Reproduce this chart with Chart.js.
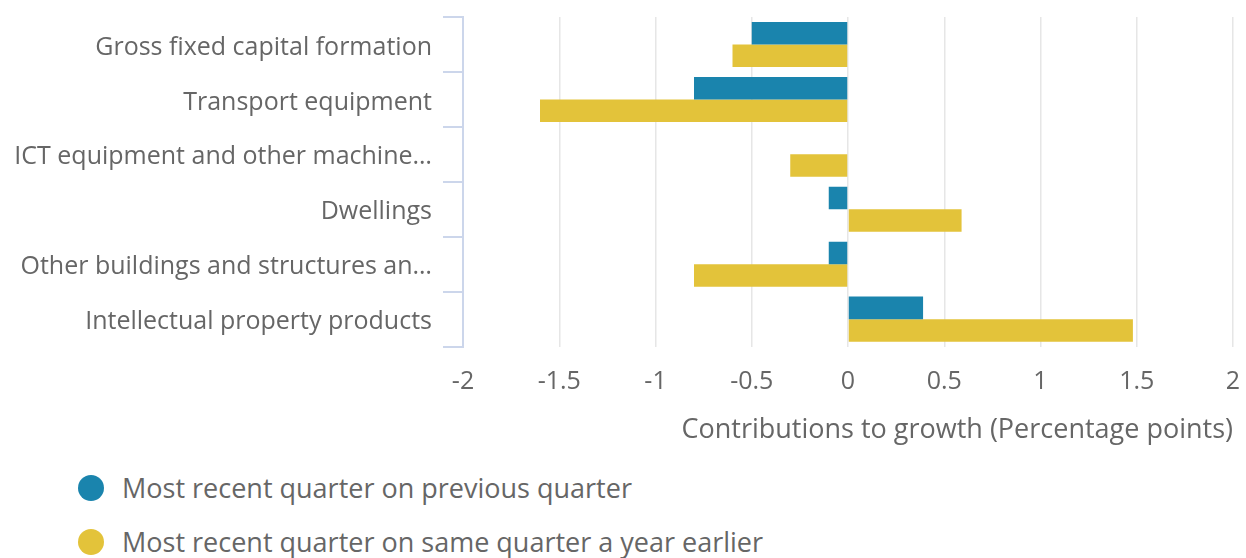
<!DOCTYPE html>
<html>
<head>
<meta charset="utf-8">
<script src="https://cdn.jsdelivr.net/npm/chart.js@4"></script>
<style>
  html, body { margin: 0; background: #fff; font-family: "Open Sans", sans-serif; overflow: hidden; }
  #wrap { position: relative; width: 1246px; height: 450px; }
  .legend { position: absolute; left: 78px; top: 0; color: #666; font-size: 27px; }
  .legend .item { position: absolute; left: 0; white-space: nowrap; height: 30px; line-height: 30px; }
  .legend .dot { display: inline-block; width: 26px; height: 26px; border-radius: 50%; vertical-align: middle; margin-right: 18px; }
  .legend span.txt { vertical-align: middle; }
</style>
</head>
<body>
<div id="wrap"><canvas id="mycanvas"></canvas></div>
<div class="legend" id="legend"></div>
<script>
var categories = [
  'Gross fixed capital formation',
  'Transport equipment',
  'ICT equipment and other machine\u2026',
  'Dwellings',
  'Other buildings and structures an\u2026',
  'Intellectual property products'
];
var quarterOnQuarter = [-0.5, -0.8, 0, -0.1, -0.1, 0.39];
var quarterOnYear = [-0.6, -1.6, -0.3, 0.59, -0.8, 1.48];
var seriesNames = ['Most recent quarter on previous quarter', 'Most recent quarter on same quarter a year earlier'];
var seriesColors = ['#1a84ad', '#e3c33a'];

Chart.defaults.font.family = '"Open Sans", sans-serif';
Chart.defaults.color = '#666666';

var chartdata = {
  labels: categories,
  datasets: [
    {
      label: seriesNames[0],
      backgroundColor: seriesColors[0],
      data: quarterOnQuarter,
      categoryPercentage: 0.82,
      barPercentage: 1
    },
    {
      label: seriesNames[1],
      backgroundColor: seriesColors[1],
      data: quarterOnYear,
      categoryPercentage: 0.82,
      barPercentage: 1
    }
  ]
};

var ctx = document.getElementById('mycanvas');
var barGraph = new Chart(ctx, {
  type: 'bar',
  data: chartdata,
  options: {
    indexAxis: 'y',
    responsive: true,
    maintainAspectRatio: false,
    animation: false,
    layout: { padding: { top: 17, right: 13, bottom: 3, left: 0 } },
    plugins: {
      legend: { display: false },
      tooltip: { enabled: false }
    },
    scales: {
      x: {
        min: -2,
        max: 2,
        ticks: {
          stepSize: 0.5,
          font: { size: 25 },
          color: '#666666',
          padding: 20,
          callback: function(v) { return String(v); }
        },
        grid: { color: '#e6e6e6', lineWidth: 1.5, drawTicks: false },
        border: { display: false },
        title: {
          display: true,
          align: 'end',
          text: 'Contributions to growth (Percentage points)',
          font: { size: 27 },
          color: '#666666',
          padding: { top: -2, bottom: 0 }
        },
        afterFit: function(scale) { scale.paddingLeft = 0; scale.paddingRight = 0; }
      },
      y: {
        ticks: { font: { size: 25 }, color: '#666666', padding: 11, labelOffset: 3 },
        grid: { drawOnChartArea: false, drawTicks: true, tickLength: 20, color: '#ccd6eb', lineWidth: 2 },
        border: { color: '#ccd6eb', width: 2 },
        afterFit: function(scale) {
          scale.width = 463;
          scale.paddingTop = 0;
          scale.paddingBottom = 0;
        }
      }
    }
  }
});

// legend underneath, one series per line
var legend = document.getElementById('legend');
var legendCentres = [485, 539];
for (var i in seriesNames) {
  var item = document.createElement('div');
  item.className = 'item';
  item.style.top = (legendCentres[i] - 15) + 'px';
  item.innerHTML = '<span class="dot" style="background:' + seriesColors[i] + '"></span><span class="txt">' + seriesNames[i] + '</span>';
  legend.appendChild(item);
}
</script>
</body>
</html>
